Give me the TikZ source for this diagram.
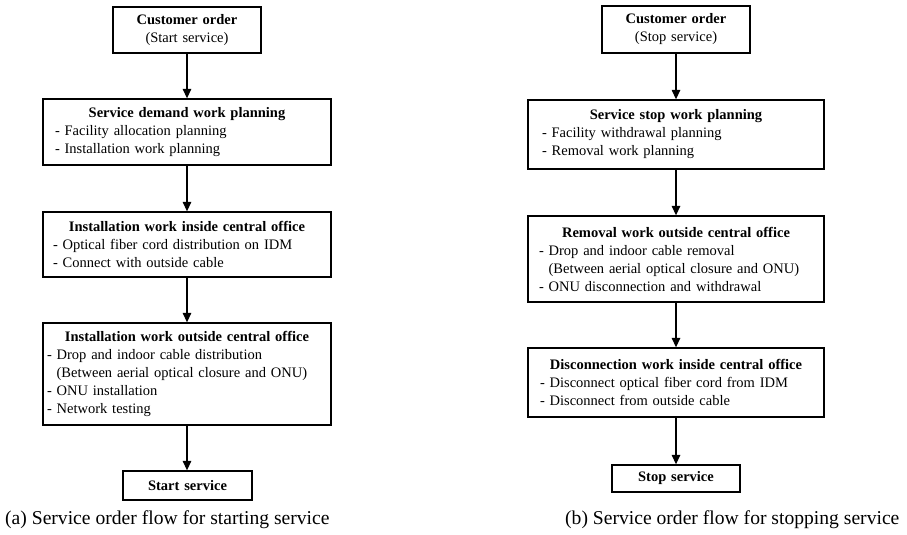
\documentclass[tikz,border=0pt]{standalone}
\usepackage{fontspec}
\setmainfont{Liberation Serif}
\usetikzlibrary{arrows.meta}

\tikzset{
  flowbox/.style={draw=black, line width=1.3pt, fill=white, inner ysep=0pt,
    font=\fontsize{14.5pt}{18pt}\selectfont, align=left},
  flowarrow/.style={line width=1.3pt, -{Triangle[length=9.5pt,width=8.5pt]}},
  caption/.style={font=\fontsize{19.6pt}{22pt}\selectfont, inner sep=0pt}
}
% a box of given width/height: #1 width, #2 height, #3 side inset
\tikzset{
  boxsize/.style n args={3}{minimum width=#1pt, minimum height=#2pt,
    inner xsep=#3pt, text width=#1pt-2*#3pt}
}
\newcommand{\boxtitle}[1]{\makebox[\linewidth]{\textbf{#1}}}

\begin{document}
\begin{tikzpicture}[x=1pt, y=-1pt]
\useasboundingbox (0,0) rectangle (907,535);

% ---- (a) starting service ----
\node[flowbox, boxsize={148}{46}{4}] (a1) at (187,30)
  {\boxtitle{Customer order}\\ \makebox[\linewidth]{(Start service)}};
\node[flowbox, boxsize={288}{66}{12}] (a2) at (187,132)
  {\boxtitle{Service demand work planning}\\
   - Facility allocation planning\\
   - Installation work planning};
\node[flowbox, boxsize={288}{65}{10}] (a3) at (187,244.5)
  {\boxtitle{Installation work inside central office}\\
   - Optical fiber cord distribution on IDM\\
   - Connect with outside cable};
\node[flowbox, boxsize={288}{102}{4}] (a4) at (187,374)
  {\boxtitle{Installation work outside central office}\\
   - Drop and indoor cable distribution\\
   \hphantom{- }(Between aerial optical closure and ONU)\\
   - ONU installation\\
   - Network testing};
\node[flowbox, boxsize={129}{29}{4}] (a5) at (187.5,485.5)
  {\boxtitle{Start service}};

\draw[flowarrow] (a1) -- (a2);
\draw[flowarrow] (a2) -- (a3);
\draw[flowarrow] (a3) -- (a4);
\draw[flowarrow] (a4) -- (a5.north -| a4.south);

\node[caption, anchor=base west] (capa) at (5,524)
  {(a) Service order flow for starting service};

% ---- (b) stopping service ----
\node[flowbox, boxsize={148}{47}{4}] (b1) at (676,29.5)
  {\boxtitle{Customer order}\\ \makebox[\linewidth]{(Stop service)}};
\node[flowbox, boxsize={296}{69}{14}] (b2) at (676,134.5)
  {\boxtitle{Service stop work planning}\\
   - Facility withdrawal planning\\
   - Removal work planning};
\node[flowbox, boxsize={296}{86}{11}] (b3) at (676,259)
  {\boxtitle{Removal work outside central office}\\
   - Drop and indoor cable removal\\
   \hphantom{- }(Between aerial optical closure and ONU)\\
   - ONU disconnection and withdrawal};
\node[flowbox, boxsize={296}{69}{12}] (b4) at (676,382.5)
  {\boxtitle{Disconnection work inside central office}\\
   - Disconnect optical fiber cord from IDM\\
   - Disconnect from outside cable};
\node[flowbox, boxsize={128}{27}{4}] (b5) at (676,478.5)
  {\boxtitle{Stop service}};

\draw[flowarrow] (b1) -- (b2);
\draw[flowarrow] (b2) -- (b3);
\draw[flowarrow] (b3) -- (b4);
\draw[flowarrow] (b4) -- (b5);

\node[caption, anchor=base west] (capb) at (565,524)
  {(b) Service order flow for stopping service};
\end{tikzpicture}
\end{document}
